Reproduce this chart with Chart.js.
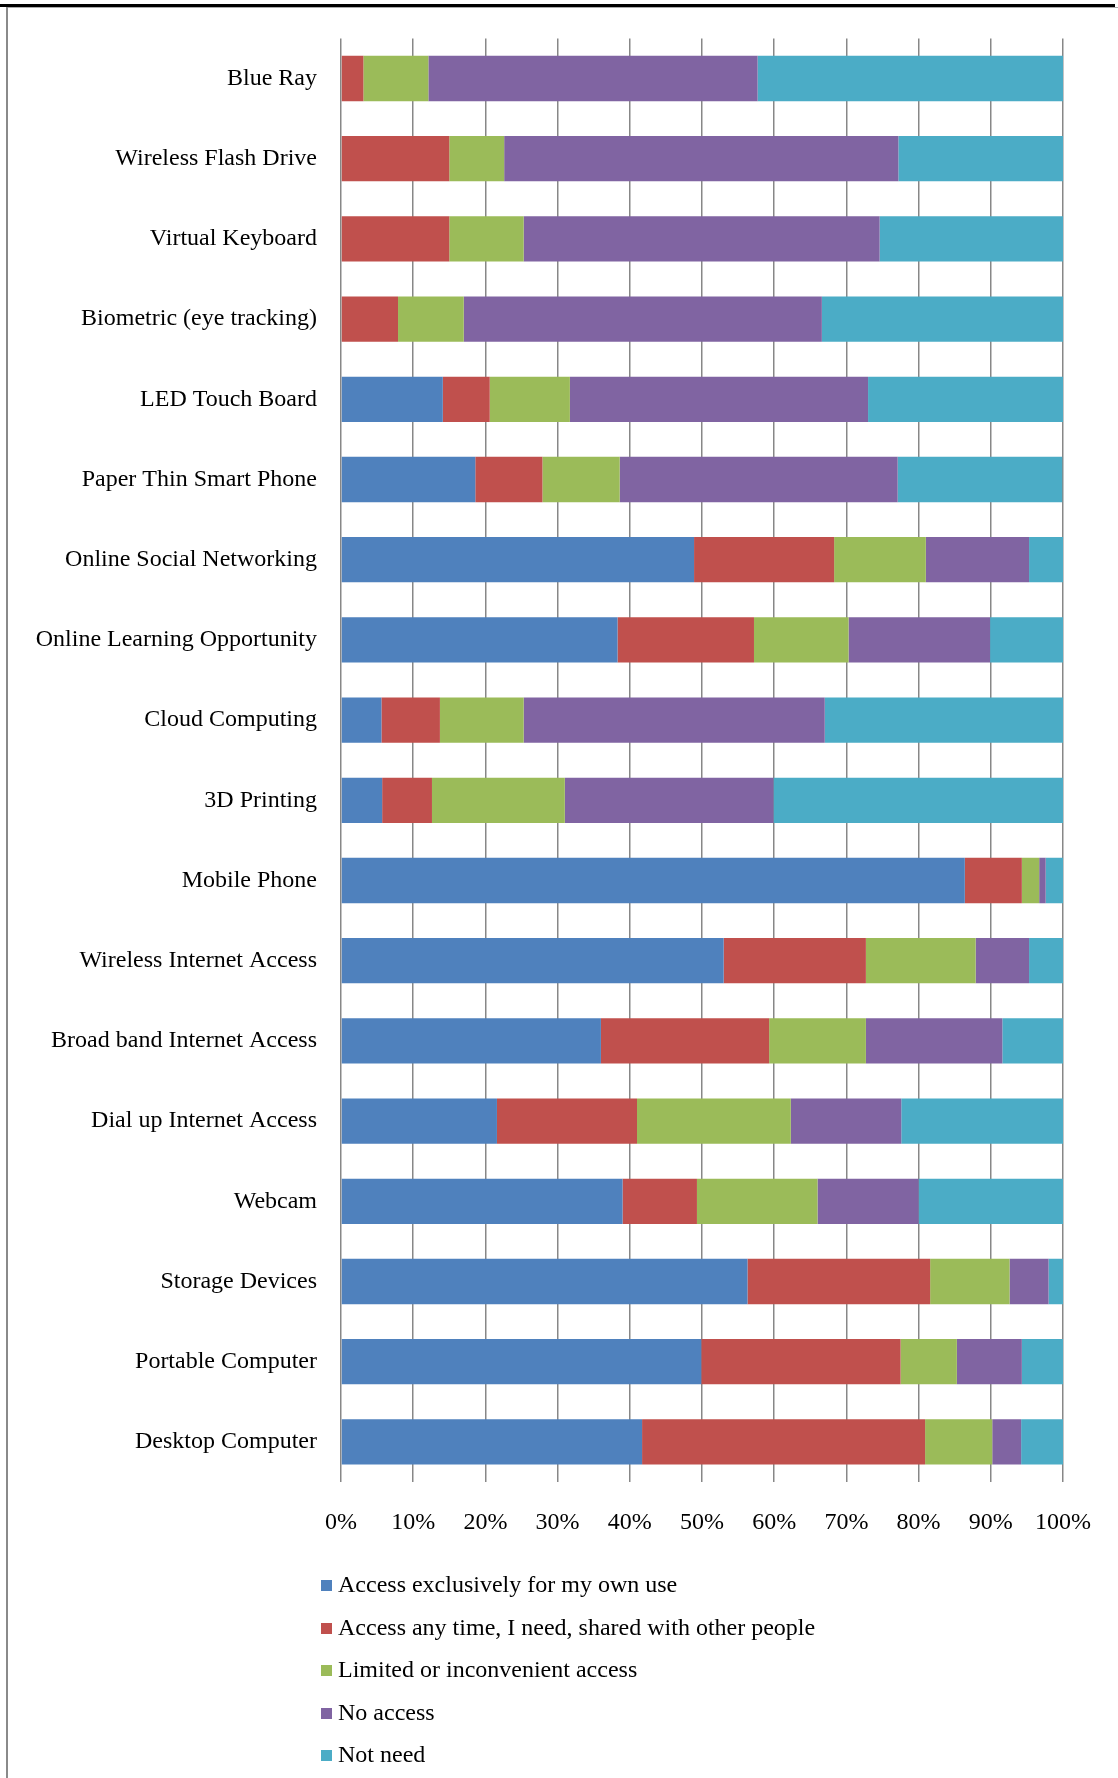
<!DOCTYPE html>
<html>
<head>
<meta charset="utf-8">
<script src="https://cdn.jsdelivr.net/npm/chart.js@4/dist/chart.umd.min.js"></script>
<style>
    body { margin: 0; background: #fff; }
    #wrap { position: relative; width: 1118px; height: 1778px; overflow: hidden; }
    #chart { position: absolute; left: 0; top: 0; }
    .top-rule { position: absolute; left: 0; top: 4px; width: 1115px; height: 3px; background: #000; }
    .top-rule2 { position: absolute; left: 8px; top: 7px; width: 1110px; height: 1px; background: #aaa; }
    .left-rule { position: absolute; left: 6px; top: 7px; width: 2px; height: 1771px; background: #8a8a8a; }
    #legend { position: absolute; left: 321px; top: 1563px; font-family: "Liberation Serif", "Times New Roman", serif; font-size: 24px; color: #000; }
    #legend div { height: 42.5px; line-height: 42px; white-space: nowrap; }
    #legend span.box { display: inline-block; width: 11px; height: 11px; margin-right: 6px; vertical-align: 1px; }
</style>
</head>
<body>
<div id="wrap">
    <canvas id="chart" width="1118" height="1778"></canvas>
    <div class="top-rule"></div>
    <div class="top-rule2"></div>
    <div class="left-rule"></div>
    <div id="legend"></div>
</div>
<script>
// categories, top to bottom
const categories = [
    "Blue Ray", "Wireless Flash Drive", "Virtual Keyboard", "Biometric (eye tracking)",
    "LED Touch Board", "Paper Thin Smart Phone", "Online Social Networking",
    "Online Learning Opportunity", "Cloud Computing", "3D Printing", "Mobile Phone",
    "Wireless Internet Access", "Broad band Internet Access", "Dial up Internet Access",
    "Webcam", "Storage Devices", "Portable Computer", "Desktop Computer"
];

const seriesNames = [
    "Access exclusively for my own use",
    "Access any time, I need, shared with other people",
    "Limited or inconvenient access",
    "No access",
    "Not need"
];

// percentages
const ownUse     = [0, 0, 0, 0, 14.1, 18.6, 48.9, 38.3, 5.6, 5.7, 86.4, 53.0, 36.0, 21.6, 39.0, 56.3, 49.9, 41.7];
const shared     = [3.1, 15.0, 15.0, 7.9, 6.5, 9.3, 19.4, 18.9, 8.1, 6.9, 7.9, 19.7, 23.3, 19.4, 10.3, 25.3, 27.6, 39.2];
const limited    = [9.0, 7.6, 10.3, 9.1, 11.1, 10.7, 12.7, 13.1, 11.6, 18.4, 2.4, 15.2, 13.4, 21.3, 16.7, 11.0, 7.8, 9.3];
const noAccess   = [45.6, 54.6, 49.3, 49.6, 41.3, 38.5, 14.3, 19.6, 41.7, 28.9, 0.9, 7.4, 18.9, 15.3, 14.0, 5.4, 9.0, 4.0];
const notNeed    = [42.4, 22.8, 25.4, 33.4, 27.0, 22.8, 4.7, 10.1, 33.0, 40.1, 2.4, 4.7, 8.4, 22.4, 20.0, 2.0, 5.7, 5.8];

const tickValues = [0, 10, 20, 30, 40, 50, 60, 70, 80, 90, 100];

const colors = ["#4F81BD", "#C0504D", "#9BBB59", "#8064A2", "#4BACC6"];
const allSeries = [ownUse, shared, limited, noAccess, notNeed];

const fontFamily = '"Liberation Serif", "Times New Roman", serif';

const datasets = allSeries.map((vals, i) => ({
    label: seriesNames[i],
    data: vals,
    backgroundColor: colors[i],
    borderWidth: 0,
    categoryPercentage: 1.0,
    barPercentage: 0.565
}));

const ctx = document.getElementById("chart").getContext("2d");
const myChart = new Chart(ctx, {
    type: "bar",
    data: { labels: categories, datasets: datasets },
    options: {
        indexAxis: "y",
        responsive: false,
        animation: false,
        layout: { padding: { top: 36, right: 55, bottom: 236, left: 0 } },
        plugins: {
            legend: { display: false },
            tooltip: { enabled: false }
        },
        scales: {
            x: {
                stacked: true,
                min: 0,
                max: 100,
                afterBuildTicks: (scale) => { scale.ticks = tickValues.map(v => ({ value: v })); },
                afterFit: (scale) => { scale.height = 60; },
                border: { display: false },
                grid: { color: "#878787", lineWidth: 1.5, drawTicks: false },
                ticks: {
                    padding: 26,
                    color: "#000",
                    font: { family: fontFamily, size: 24 },
                    callback: (v) => v + "%"
                }
            },
            y: {
                stacked: true,
                afterFit: (scale) => { scale.width = 341; },
                border: { display: false },
                grid: { display: false, drawTicks: false },
                ticks: {
                    padding: 24,
                    color: "#000",
                    font: { family: fontFamily, size: 24 }
                }
            }
        }
    }
});

// legend below the chart, one entry per row
const legendBox = document.getElementById("legend");
myChart.data.datasets.forEach((ds) => {
    const row = document.createElement("div");
    const box = document.createElement("span");
    box.className = "box";
    box.style.background = ds.backgroundColor;
    row.appendChild(box);
    row.appendChild(document.createTextNode(ds.label));
    legendBox.appendChild(row);
});
</script>
</body>
</html>
